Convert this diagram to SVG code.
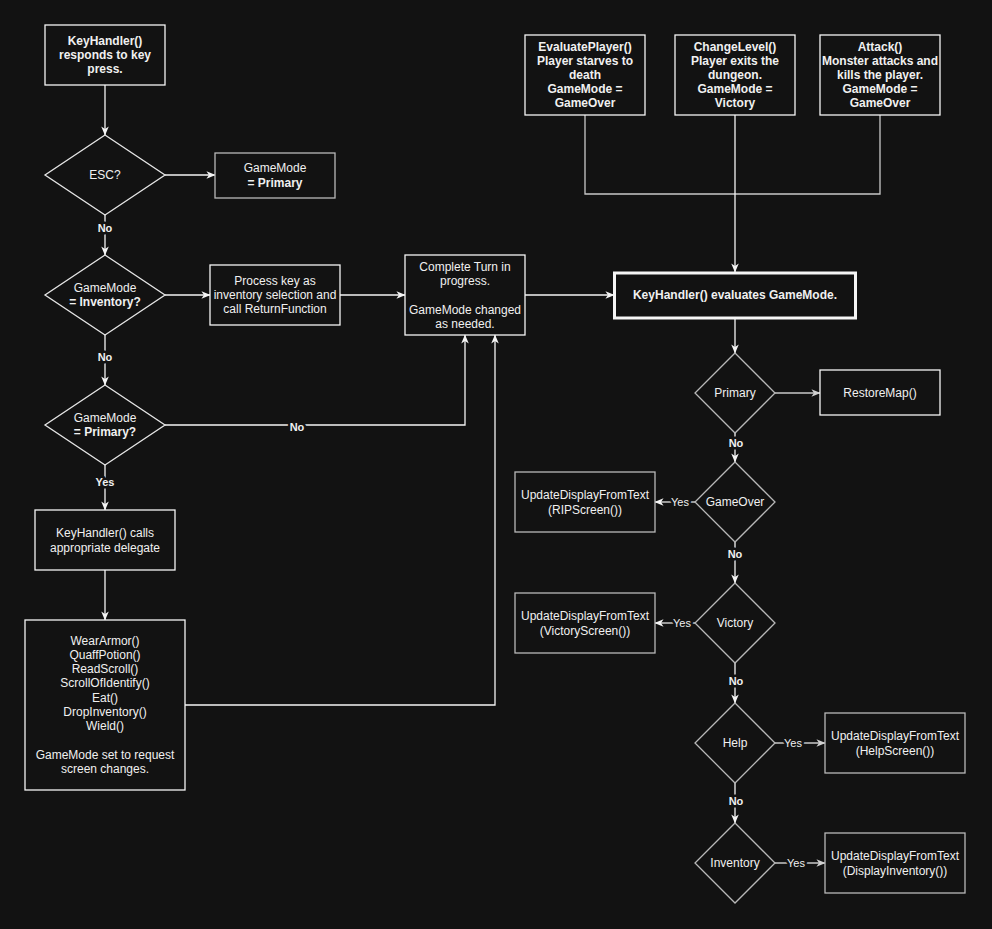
<svg xmlns="http://www.w3.org/2000/svg" width="992" height="929" viewBox="0 0 992 929">
<style>
text{font-family:"Liberation Sans",Arial,sans-serif;font-size:12px;fill:#f0f0f0;text-anchor:middle}
.b{font-weight:bold}
.box{fill:#121212;stroke:#f5f5f5;stroke-width:1.3}
.gbox{fill:#121212;stroke:#b8b8b8;stroke-width:1.3}
.dia{fill:#121212;stroke:#e6e6e6;stroke-width:1.3}
.gdia{fill:#121212;stroke:#b8b8b8;stroke-width:1.3}
.e{fill:none;stroke:#f5f5f5;stroke-width:1.3}
.ge{fill:none;stroke:#c8c8c8;stroke-width:1.3}
.lbl{font-size:11px;paint-order:stroke;stroke:#121212;stroke-width:5px;stroke-linejoin:round}
</style>
<defs>
<marker id="arr" viewBox="0 0 10 10" refX="9.5" refY="5" markerWidth="9" markerHeight="9" markerUnits="userSpaceOnUse" orient="auto"><path d="M0,0.8 L10,5 L0,9.2 L2.8,5 Z" fill="#f5f5f5"/></marker>
<marker id="garr" viewBox="0 0 10 10" refX="9.5" refY="5" markerWidth="9" markerHeight="9" markerUnits="userSpaceOnUse" orient="auto"><path d="M0,0.8 L10,5 L0,9.2 L2.8,5 Z" fill="#d0d0d0"/></marker>
</defs>
<rect width="992" height="929" fill="#121212"/>

<g id="connectors">
<path class="e" d="M105,85 V135" marker-end="url(#arr)"/>
<path class="e" d="M165,175 H215" marker-end="url(#arr)"/>
<path class="e" d="M105,215 V255" marker-end="url(#arr)"/>
<path class="e" d="M165,295 H210" marker-end="url(#arr)"/>
<path class="e" d="M340,295 H405" marker-end="url(#arr)"/>
<path class="e" d="M105,335 V385" marker-end="url(#arr)"/>
<path class="e" d="M165,425 H465 V335" marker-end="url(#arr)"/>
<path class="e" d="M105,465 V510" marker-end="url(#arr)"/>
<path class="e" d="M105,570 V620" marker-end="url(#arr)"/>
<path class="e" d="M185,705 H495 V335" marker-end="url(#arr)"/>
<path class="e" d="M525,295 H614" marker-end="url(#arr)"/>
<path class="ge" d="M585,115 V194 H880 V115"/>
<path class="e" d="M735,115 V272" marker-end="url(#arr)"/>
<path class="e" d="M735,318 V353" marker-end="url(#arr)"/>
<path class="ge" d="M775,393 H820" marker-end="url(#garr)"/>
<path class="e" d="M735,433 V462" marker-end="url(#arr)"/>
<path class="ge" d="M695,502 H655" marker-end="url(#arr)"/>
<path class="e" d="M735,542 V583" marker-end="url(#arr)"/>
<path class="ge" d="M695,623 H655" marker-end="url(#arr)"/>
<path class="e" d="M735,663 V703" marker-end="url(#arr)"/>
<path class="ge" d="M775,743 H825" marker-end="url(#garr)"/>
<path class="e" d="M735,783 V823" marker-end="url(#arr)"/>
<path class="ge" d="M775,863 H825" marker-end="url(#garr)"/>
<text class="lbl b" x="105" y="232">No</text>
<text class="lbl b" x="105" y="361">No</text>
<text class="lbl b" x="297" y="431">No</text>
<text class="lbl b" x="105" y="486">Yes</text>
<text class="lbl b" x="736" y="447">No</text>
<text class="lbl" x="680" y="506">Yes</text>
<text class="lbl b" x="735" y="558">No</text>
<text class="lbl" x="682" y="627">Yes</text>
<text class="lbl b" x="736" y="685">No</text>
<text class="lbl" x="793" y="747">Yes</text>
<text class="lbl b" x="736" y="805">No</text>
<text class="lbl" x="796" y="867">Yes</text>
</g>

<g id="keypress">
<rect class="box" x="45" y="25" width="120" height="60"/>
<text class="b" x="105" y="45">KeyHandler()</text>
<text class="b" x="105" y="59">responds to key</text>
<text class="b" x="105" y="73">press.</text>
</g>
<g id="esc">
<path class="dia" d="M105,135 L165,175 L105,215 L45,175 Z"/>
<text x="105" y="179">ESC?</text>
</g>
<g id="setprimary">
<rect class="gbox" x="215" y="153" width="120" height="45"/>
<text x="275" y="172">GameMode</text>
<text class="b" x="275" y="187">= Primary</text>
</g>
<g id="isinventory">
<path class="dia" d="M105,255 L165,295 L105,335 L45,295 Z"/>
<text x="105" y="292">GameMode</text>
<text class="b" x="105" y="306">= Inventory?</text>
</g>
<g id="processkey">
<rect class="box" x="210" y="265" width="130" height="60"/>
<text x="275" y="285">Process key as</text>
<text x="275" y="299">inventory selection and</text>
<text x="275" y="313">call ReturnFunction</text>
</g>
<g id="isprimary">
<path class="dia" d="M105,385 L165,425 L105,465 L45,425 Z"/>
<text x="105" y="422">GameMode</text>
<text class="b" x="105" y="436">= Primary?</text>
</g>
<g id="callsdelegate">
<rect class="box" x="35" y="510" width="140" height="60"/>
<text x="105" y="537">KeyHandler() calls</text>
<text x="105" y="552">appropriate delegate</text>
</g>
<g id="delegates">
<rect class="box" x="25" y="620" width="160" height="170"/>
<text x="105" y="645">WearArmor()</text>
<text x="105" y="659">QuaffPotion()</text>
<text x="105" y="673">ReadScroll()</text>
<text x="105" y="687">ScrollOfIdentify()</text>
<text x="105" y="702">Eat()</text>
<text x="105" y="716">DropInventory()</text>
<text x="105" y="730">Wield()</text>
<text x="105" y="759">GameMode set to request</text>
<text x="105" y="773">screen changes.</text>
</g>
<g id="completeturn">
<rect class="box" x="405" y="255" width="120" height="80"/>
<text x="465" y="271">Complete Turn in</text>
<text x="465" y="285">progress.</text>
<text x="465" y="314">GameMode changed</text>
<text x="465" y="328">as needed.</text>
</g>
<g id="evaluatesmode">
<rect x="614.5" y="273" width="241" height="45" fill="#121212" stroke="#f5f5f5" stroke-width="3"/>
<text class="b" x="735" y="299">KeyHandler() evaluates GameMode.</text>
</g>
<g id="evaluateplayer">
<rect class="box" x="525" y="35" width="120" height="80"/>
<text class="b" x="585" y="51">EvaluatePlayer()</text>
<text class="b" x="585" y="65">Player starves to</text>
<text class="b" x="585" y="79">death</text>
<text class="b" x="585" y="93">GameMode =</text>
<text class="b" x="585" y="107">GameOver</text>
</g>
<g id="changelevel">
<rect class="box" x="675" y="35" width="120" height="80"/>
<text class="b" x="735" y="51">ChangeLevel()</text>
<text class="b" x="735" y="65">Player exits the</text>
<text class="b" x="735" y="79">dungeon.</text>
<text class="b" x="735" y="93">GameMode =</text>
<text class="b" x="735" y="107">Victory</text>
</g>
<g id="attack">
<rect class="box" x="820" y="35" width="120" height="80"/>
<text class="b" x="880" y="51">Attack()</text>
<text class="b" x="880" y="65">Monster attacks and</text>
<text class="b" x="880" y="79">kills the player.</text>
<text class="b" x="880" y="93">GameMode =</text>
<text class="b" x="880" y="107">GameOver</text>
</g>
<g id="primary">
<path class="gdia" d="M735,353 L775,393 L735,433 L695,393 Z"/>
<text x="735" y="397">Primary</text>
</g>
<g id="restoremap">
<rect class="box" x="820" y="370" width="120" height="45"/>
<text x="880" y="397">RestoreMap()</text>
</g>
<g id="gameover">
<path class="gdia" d="M735,462 L775,502 L735,542 L695,502 Z"/>
<text x="735" y="506">GameOver</text>
</g>
<g id="ripscreen">
<rect class="gbox" x="515" y="472" width="140" height="60"/>
<text x="585" y="499">UpdateDisplayFromText</text>
<text x="585" y="514">(RIPScreen())</text>
</g>
<g id="victory">
<path class="gdia" d="M735,583 L775,623 L735,663 L695,623 Z"/>
<text x="735" y="627">Victory</text>
</g>
<g id="victoryscreen">
<rect class="gbox" x="515" y="593" width="140" height="60"/>
<text x="585" y="620">UpdateDisplayFromText</text>
<text x="585" y="635">(VictoryScreen())</text>
</g>
<g id="help">
<path class="gdia" d="M735,703 L775,743 L735,783 L695,743 Z"/>
<text x="735" y="747">Help</text>
</g>
<g id="helpscreen">
<rect class="gbox" x="825" y="713" width="140" height="60"/>
<text x="895" y="740">UpdateDisplayFromText</text>
<text x="895" y="755">(HelpScreen())</text>
</g>
<g id="inventory">
<path class="gdia" d="M735,823 L775,863 L735,903 L695,863 Z"/>
<text x="735" y="867">Inventory</text>
</g>
<g id="displayinventory">
<rect class="gbox" x="825" y="833" width="140" height="60"/>
<text x="895" y="860">UpdateDisplayFromText</text>
<text x="895" y="875">(DisplayInventory())</text>
</g>
</svg>
